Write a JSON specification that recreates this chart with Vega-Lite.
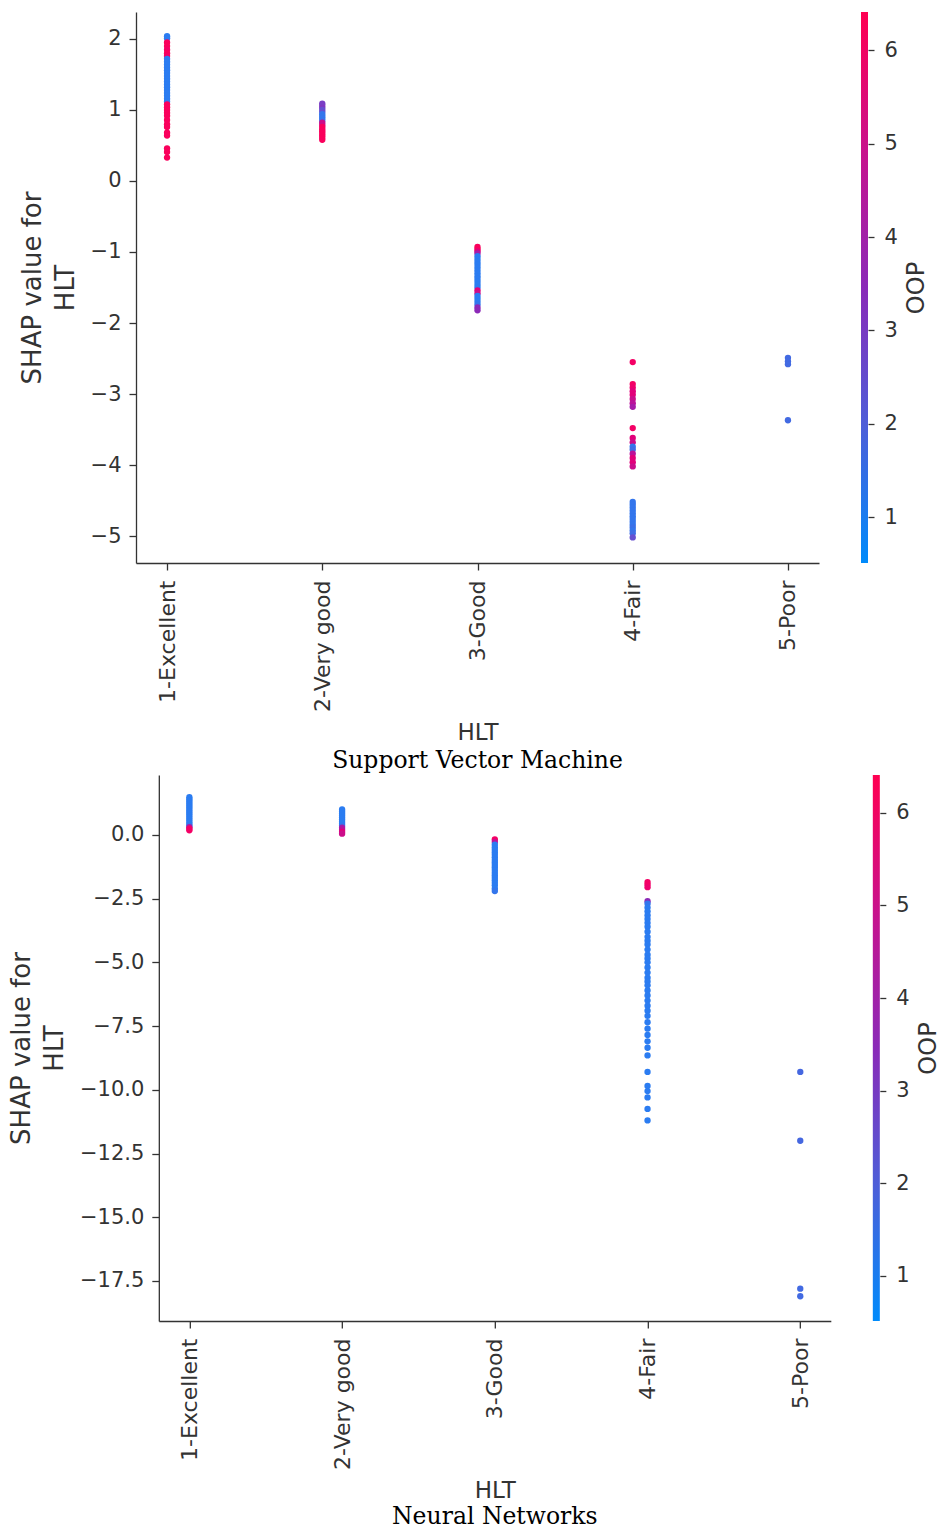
{
  "$schema": "https://vega.github.io/schema/vega-lite/v6.json",
  "background": "white",
  "padding": {"left": 8, "top": 12, "right": 0, "bottom": 0},
  "spacing": 2,
  "center": true,
  "datasets": {
    "svm": [
      {"HLT": "1-Excellent", "SHAP": 2.04, "OOP": 1.0},
      {"HLT": "1-Excellent", "SHAP": 2.01, "OOP": 1.0},
      {"HLT": "1-Excellent", "SHAP": 1.95, "OOP": 6.2},
      {"HLT": "1-Excellent", "SHAP": 1.9, "OOP": 6.2},
      {"HLT": "1-Excellent", "SHAP": 1.85, "OOP": 6.0},
      {"HLT": "1-Excellent", "SHAP": 1.8, "OOP": 6.2},
      {"HLT": "1-Excellent", "SHAP": 1.76, "OOP": 6.0},
      {"HLT": "1-Excellent", "SHAP": 1.72, "OOP": 1.0},
      {"HLT": "1-Excellent", "SHAP": 1.68, "OOP": 1.0},
      {"HLT": "1-Excellent", "SHAP": 1.64, "OOP": 1.0},
      {"HLT": "1-Excellent", "SHAP": 1.6, "OOP": 1.0},
      {"HLT": "1-Excellent", "SHAP": 1.56, "OOP": 1.0},
      {"HLT": "1-Excellent", "SHAP": 1.52, "OOP": 1.0},
      {"HLT": "1-Excellent", "SHAP": 1.48, "OOP": 1.0},
      {"HLT": "1-Excellent", "SHAP": 1.44, "OOP": 1.0},
      {"HLT": "1-Excellent", "SHAP": 1.4, "OOP": 1.0},
      {"HLT": "1-Excellent", "SHAP": 1.36, "OOP": 1.0},
      {"HLT": "1-Excellent", "SHAP": 1.32, "OOP": 1.0},
      {"HLT": "1-Excellent", "SHAP": 1.28, "OOP": 1.0},
      {"HLT": "1-Excellent", "SHAP": 1.24, "OOP": 1.0},
      {"HLT": "1-Excellent", "SHAP": 1.2, "OOP": 1.0},
      {"HLT": "1-Excellent", "SHAP": 1.16, "OOP": 1.0},
      {"HLT": "1-Excellent", "SHAP": 1.12, "OOP": 1.0},
      {"HLT": "1-Excellent", "SHAP": 1.08, "OOP": 6.2},
      {"HLT": "1-Excellent", "SHAP": 1.04, "OOP": 6.2},
      {"HLT": "1-Excellent", "SHAP": 1.0, "OOP": 6.2},
      {"HLT": "1-Excellent", "SHAP": 0.96, "OOP": 6.2},
      {"HLT": "1-Excellent", "SHAP": 0.92, "OOP": 6.2},
      {"HLT": "1-Excellent", "SHAP": 0.86, "OOP": 6.2},
      {"HLT": "1-Excellent", "SHAP": 0.8, "OOP": 6.2},
      {"HLT": "1-Excellent", "SHAP": 0.76, "OOP": 6.2},
      {"HLT": "1-Excellent", "SHAP": 0.68, "OOP": 6.2},
      {"HLT": "1-Excellent", "SHAP": 0.64, "OOP": 6.2},
      {"HLT": "1-Excellent", "SHAP": 0.46, "OOP": 6.2},
      {"HLT": "1-Excellent", "SHAP": 0.41, "OOP": 6.2},
      {"HLT": "1-Excellent", "SHAP": 0.33, "OOP": 6.2},
      {"HLT": "2-Very good", "SHAP": 1.09, "OOP": 3.0},
      {"HLT": "2-Very good", "SHAP": 1.06, "OOP": 3.0},
      {"HLT": "2-Very good", "SHAP": 1.03, "OOP": 3.2},
      {"HLT": "2-Very good", "SHAP": 1.0, "OOP": 2.5},
      {"HLT": "2-Very good", "SHAP": 0.97, "OOP": 2.5},
      {"HLT": "2-Very good", "SHAP": 0.94, "OOP": 1.2},
      {"HLT": "2-Very good", "SHAP": 0.91, "OOP": 1.2},
      {"HLT": "2-Very good", "SHAP": 0.88, "OOP": 1.2},
      {"HLT": "2-Very good", "SHAP": 0.85, "OOP": 1.2},
      {"HLT": "2-Very good", "SHAP": 0.82, "OOP": 5.0},
      {"HLT": "2-Very good", "SHAP": 0.79, "OOP": 5.0},
      {"HLT": "2-Very good", "SHAP": 0.76, "OOP": 6.2},
      {"HLT": "2-Very good", "SHAP": 0.73, "OOP": 6.2},
      {"HLT": "2-Very good", "SHAP": 0.7, "OOP": 6.2},
      {"HLT": "2-Very good", "SHAP": 0.67, "OOP": 6.2},
      {"HLT": "2-Very good", "SHAP": 0.64, "OOP": 6.2},
      {"HLT": "2-Very good", "SHAP": 0.61, "OOP": 6.2},
      {"HLT": "2-Very good", "SHAP": 0.58, "OOP": 6.2},
      {"HLT": "3-Good", "SHAP": -0.93, "OOP": 6.2},
      {"HLT": "3-Good", "SHAP": -0.96, "OOP": 6.2},
      {"HLT": "3-Good", "SHAP": -0.99, "OOP": 5.5},
      {"HLT": "3-Good", "SHAP": -1.02, "OOP": 4.0},
      {"HLT": "3-Good", "SHAP": -1.06, "OOP": 1.0},
      {"HLT": "3-Good", "SHAP": -1.1, "OOP": 1.0},
      {"HLT": "3-Good", "SHAP": -1.14, "OOP": 1.0},
      {"HLT": "3-Good", "SHAP": -1.18, "OOP": 1.0},
      {"HLT": "3-Good", "SHAP": -1.22, "OOP": 1.0},
      {"HLT": "3-Good", "SHAP": -1.26, "OOP": 1.0},
      {"HLT": "3-Good", "SHAP": -1.3, "OOP": 1.0},
      {"HLT": "3-Good", "SHAP": -1.34, "OOP": 1.0},
      {"HLT": "3-Good", "SHAP": -1.38, "OOP": 1.0},
      {"HLT": "3-Good", "SHAP": -1.42, "OOP": 1.0},
      {"HLT": "3-Good", "SHAP": -1.46, "OOP": 1.0},
      {"HLT": "3-Good", "SHAP": -1.5, "OOP": 1.0},
      {"HLT": "3-Good", "SHAP": -1.54, "OOP": 5.5},
      {"HLT": "3-Good", "SHAP": -1.58, "OOP": 5.0},
      {"HLT": "3-Good", "SHAP": -1.62, "OOP": 1.0},
      {"HLT": "3-Good", "SHAP": -1.66, "OOP": 1.0},
      {"HLT": "3-Good", "SHAP": -1.7, "OOP": 1.0},
      {"HLT": "3-Good", "SHAP": -1.74, "OOP": 1.2},
      {"HLT": "3-Good", "SHAP": -1.78, "OOP": 3.5},
      {"HLT": "3-Good", "SHAP": -1.82, "OOP": 3.5},
      {"HLT": "4-Fair", "SHAP": -2.55, "OOP": 6.0},
      {"HLT": "4-Fair", "SHAP": -2.86, "OOP": 6.0},
      {"HLT": "4-Fair", "SHAP": -2.91, "OOP": 5.8},
      {"HLT": "4-Fair", "SHAP": -2.96, "OOP": 5.5},
      {"HLT": "4-Fair", "SHAP": -3.01, "OOP": 5.5},
      {"HLT": "4-Fair", "SHAP": -3.07, "OOP": 5.0},
      {"HLT": "4-Fair", "SHAP": -3.13, "OOP": 4.5},
      {"HLT": "4-Fair", "SHAP": -3.18, "OOP": 4.0},
      {"HLT": "4-Fair", "SHAP": -3.48, "OOP": 6.0},
      {"HLT": "4-Fair", "SHAP": -3.62, "OOP": 5.5},
      {"HLT": "4-Fair", "SHAP": -3.68, "OOP": 5.0},
      {"HLT": "4-Fair", "SHAP": -3.74, "OOP": 1.2},
      {"HLT": "4-Fair", "SHAP": -3.78, "OOP": 1.5},
      {"HLT": "4-Fair", "SHAP": -3.84, "OOP": 4.5},
      {"HLT": "4-Fair", "SHAP": -3.9, "OOP": 5.5},
      {"HLT": "4-Fair", "SHAP": -3.96, "OOP": 5.5},
      {"HLT": "4-Fair", "SHAP": -4.02, "OOP": 5.0},
      {"HLT": "4-Fair", "SHAP": -4.52, "OOP": 1.2},
      {"HLT": "4-Fair", "SHAP": -4.56, "OOP": 1.2},
      {"HLT": "4-Fair", "SHAP": -4.6, "OOP": 1.2},
      {"HLT": "4-Fair", "SHAP": -4.64, "OOP": 1.2},
      {"HLT": "4-Fair", "SHAP": -4.68, "OOP": 1.2},
      {"HLT": "4-Fair", "SHAP": -4.72, "OOP": 1.2},
      {"HLT": "4-Fair", "SHAP": -4.76, "OOP": 1.2},
      {"HLT": "4-Fair", "SHAP": -4.8, "OOP": 1.2},
      {"HLT": "4-Fair", "SHAP": -4.84, "OOP": 1.2},
      {"HLT": "4-Fair", "SHAP": -4.88, "OOP": 1.4},
      {"HLT": "4-Fair", "SHAP": -4.92, "OOP": 1.2},
      {"HLT": "4-Fair", "SHAP": -4.96, "OOP": 1.5},
      {"HLT": "4-Fair", "SHAP": -5.02, "OOP": 2.5},
      {"HLT": "5-Poor", "SHAP": -2.49, "OOP": 1.6},
      {"HLT": "5-Poor", "SHAP": -2.54, "OOP": 1.6},
      {"HLT": "5-Poor", "SHAP": -2.58, "OOP": 1.6},
      {"HLT": "5-Poor", "SHAP": -3.37, "OOP": 1.6}
    ],
    "nn": [
      {"HLT": "1-Excellent", "SHAP": 1.48, "OOP": 1.0},
      {"HLT": "1-Excellent", "SHAP": 1.4, "OOP": 1.0},
      {"HLT": "1-Excellent", "SHAP": 1.32, "OOP": 1.0},
      {"HLT": "1-Excellent", "SHAP": 1.24, "OOP": 1.0},
      {"HLT": "1-Excellent", "SHAP": 1.16, "OOP": 1.0},
      {"HLT": "1-Excellent", "SHAP": 1.08, "OOP": 1.0},
      {"HLT": "1-Excellent", "SHAP": 1.0, "OOP": 1.0},
      {"HLT": "1-Excellent", "SHAP": 0.92, "OOP": 1.0},
      {"HLT": "1-Excellent", "SHAP": 0.84, "OOP": 1.0},
      {"HLT": "1-Excellent", "SHAP": 0.76, "OOP": 1.0},
      {"HLT": "1-Excellent", "SHAP": 0.68, "OOP": 1.0},
      {"HLT": "1-Excellent", "SHAP": 0.6, "OOP": 1.0},
      {"HLT": "1-Excellent", "SHAP": 0.52, "OOP": 1.0},
      {"HLT": "1-Excellent", "SHAP": 0.44, "OOP": 1.0},
      {"HLT": "1-Excellent", "SHAP": 0.36, "OOP": 1.2},
      {"HLT": "1-Excellent", "SHAP": 0.3, "OOP": 4.0},
      {"HLT": "1-Excellent", "SHAP": 0.24, "OOP": 6.0},
      {"HLT": "1-Excellent", "SHAP": 0.18, "OOP": 6.0},
      {"HLT": "2-Very good", "SHAP": 1.0, "OOP": 1.0},
      {"HLT": "2-Very good", "SHAP": 0.92, "OOP": 1.0},
      {"HLT": "2-Very good", "SHAP": 0.84, "OOP": 1.0},
      {"HLT": "2-Very good", "SHAP": 0.76, "OOP": 1.0},
      {"HLT": "2-Very good", "SHAP": 0.68, "OOP": 1.0},
      {"HLT": "2-Very good", "SHAP": 0.6, "OOP": 1.0},
      {"HLT": "2-Very good", "SHAP": 0.52, "OOP": 1.0},
      {"HLT": "2-Very good", "SHAP": 0.44, "OOP": 1.0},
      {"HLT": "2-Very good", "SHAP": 0.36, "OOP": 1.2},
      {"HLT": "2-Very good", "SHAP": 0.28, "OOP": 4.0},
      {"HLT": "2-Very good", "SHAP": 0.2, "OOP": 4.5},
      {"HLT": "2-Very good", "SHAP": 0.12, "OOP": 5.5},
      {"HLT": "2-Very good", "SHAP": 0.05, "OOP": 5.0},
      {"HLT": "3-Good", "SHAP": -0.18, "OOP": 6.0},
      {"HLT": "3-Good", "SHAP": -0.28, "OOP": 4.5},
      {"HLT": "3-Good", "SHAP": -0.38, "OOP": 1.0},
      {"HLT": "3-Good", "SHAP": -0.48, "OOP": 1.0},
      {"HLT": "3-Good", "SHAP": -0.58, "OOP": 1.0},
      {"HLT": "3-Good", "SHAP": -0.68, "OOP": 1.0},
      {"HLT": "3-Good", "SHAP": -0.78, "OOP": 1.0},
      {"HLT": "3-Good", "SHAP": -0.88, "OOP": 1.0},
      {"HLT": "3-Good", "SHAP": -0.98, "OOP": 1.0},
      {"HLT": "3-Good", "SHAP": -1.08, "OOP": 1.0},
      {"HLT": "3-Good", "SHAP": -1.18, "OOP": 1.0},
      {"HLT": "3-Good", "SHAP": -1.28, "OOP": 1.0},
      {"HLT": "3-Good", "SHAP": -1.38, "OOP": 1.0},
      {"HLT": "3-Good", "SHAP": -1.48, "OOP": 1.0},
      {"HLT": "3-Good", "SHAP": -1.58, "OOP": 1.0},
      {"HLT": "3-Good", "SHAP": -1.68, "OOP": 1.0},
      {"HLT": "3-Good", "SHAP": -1.78, "OOP": 1.0},
      {"HLT": "3-Good", "SHAP": -1.88, "OOP": 1.0},
      {"HLT": "3-Good", "SHAP": -1.98, "OOP": 1.0},
      {"HLT": "3-Good", "SHAP": -2.1, "OOP": 1.0},
      {"HLT": "3-Good", "SHAP": -2.2, "OOP": 1.2},
      {"HLT": "4-Fair", "SHAP": -1.85, "OOP": 6.0},
      {"HLT": "4-Fair", "SHAP": -1.95, "OOP": 6.0},
      {"HLT": "4-Fair", "SHAP": -2.05, "OOP": 5.8},
      {"HLT": "4-Fair", "SHAP": -2.6, "OOP": 3.5},
      {"HLT": "4-Fair", "SHAP": -2.7, "OOP": 1.2},
      {"HLT": "4-Fair", "SHAP": -2.85, "OOP": 1.0},
      {"HLT": "4-Fair", "SHAP": -3.0, "OOP": 1.0},
      {"HLT": "4-Fair", "SHAP": -3.15, "OOP": 1.0},
      {"HLT": "4-Fair", "SHAP": -3.3, "OOP": 1.0},
      {"HLT": "4-Fair", "SHAP": -3.45, "OOP": 1.0},
      {"HLT": "4-Fair", "SHAP": -3.6, "OOP": 1.0},
      {"HLT": "4-Fair", "SHAP": -3.8, "OOP": 1.0},
      {"HLT": "4-Fair", "SHAP": -4.0, "OOP": 1.0},
      {"HLT": "4-Fair", "SHAP": -4.15, "OOP": 1.0},
      {"HLT": "4-Fair", "SHAP": -4.3, "OOP": 1.0},
      {"HLT": "4-Fair", "SHAP": -4.5, "OOP": 1.0},
      {"HLT": "4-Fair", "SHAP": -4.7, "OOP": 1.0},
      {"HLT": "4-Fair", "SHAP": -4.85, "OOP": 1.0},
      {"HLT": "4-Fair", "SHAP": -5.0, "OOP": 1.0},
      {"HLT": "4-Fair", "SHAP": -5.2, "OOP": 1.0},
      {"HLT": "4-Fair", "SHAP": -5.4, "OOP": 1.0},
      {"HLT": "4-Fair", "SHAP": -5.6, "OOP": 1.0},
      {"HLT": "4-Fair", "SHAP": -5.75, "OOP": 1.0},
      {"HLT": "4-Fair", "SHAP": -5.9, "OOP": 1.0},
      {"HLT": "4-Fair", "SHAP": -6.1, "OOP": 1.0},
      {"HLT": "4-Fair", "SHAP": -6.3, "OOP": 1.0},
      {"HLT": "4-Fair", "SHAP": -6.5, "OOP": 1.0},
      {"HLT": "4-Fair", "SHAP": -6.7, "OOP": 1.0},
      {"HLT": "4-Fair", "SHAP": -6.9, "OOP": 1.0},
      {"HLT": "4-Fair", "SHAP": -7.1, "OOP": 1.0},
      {"HLT": "4-Fair", "SHAP": -7.35, "OOP": 1.0},
      {"HLT": "4-Fair", "SHAP": -7.6, "OOP": 1.0},
      {"HLT": "4-Fair", "SHAP": -7.85, "OOP": 1.0},
      {"HLT": "4-Fair", "SHAP": -8.1, "OOP": 1.0},
      {"HLT": "4-Fair", "SHAP": -8.35, "OOP": 1.0},
      {"HLT": "4-Fair", "SHAP": -8.65, "OOP": 1.0},
      {"HLT": "4-Fair", "SHAP": -9.3, "OOP": 1.0},
      {"HLT": "4-Fair", "SHAP": -9.85, "OOP": 1.0},
      {"HLT": "4-Fair", "SHAP": -10.05, "OOP": 1.0},
      {"HLT": "4-Fair", "SHAP": -10.3, "OOP": 1.0},
      {"HLT": "4-Fair", "SHAP": -10.75, "OOP": 1.0},
      {"HLT": "4-Fair", "SHAP": -11.2, "OOP": 1.0},
      {"HLT": "5-Poor", "SHAP": -9.3, "OOP": 1.7},
      {"HLT": "5-Poor", "SHAP": -12.0, "OOP": 1.7},
      {"HLT": "5-Poor", "SHAP": -17.8, "OOP": 1.6},
      {"HLT": "5-Poor", "SHAP": -18.1, "OOP": 1.6}
    ],
    "bar": [{"lo": 0.51, "hi": 6.41}]
  },
  "vconcat": [
    {
      "spacing": 42,
      "hconcat": [
        {
          "width": 683,
          "height": 551,
          "data": {"name": "svm"},
          "title": {"text": "Support Vector Machine", "orient": "bottom", "anchor": "middle", "frame": "group", "font": "DejaVu Serif", "fontSize": 23.5, "fontWeight": "normal", "color": "#000000", "offset": 5},
          "mark": {"type": "circle", "size": 40, "opacity": 1},
          "encoding": {
            "x": {"field": "HLT", "type": "ordinal", "scale": {"type": "point", "padding": 0.2, "domain": ["1-Excellent", "2-Very good", "3-Good", "4-Fair", "5-Poor"]}, "axis": {"title": "HLT", "labelAngle": -90}},
            "y": {"field": "SHAP", "type": "quantitative", "scale": {"domain": [-5.38, 2.38], "nice": false, "zero": false}, "axis": {"values": [-5, -4, -3, -2, -1, 0, 1, 2], "format": "d", "title": ["SHAP value for", "HLT"]}},
            "color": {"field": "OOP", "type": "quantitative", "scale": {"domain": [0.51, 1.985, 3.46, 4.935, 6.41], "range": ["#008bfb", "#4d5ed8", "#8a2ab8", "#c8128c", "#ff0052"]}, "legend": null}
          }
        },
        {
          "spacing": 0,
          "hconcat": [
            {
              "width": 7,
              "height": 551,
              "data": {"name": "bar"},
              "mark": {"type": "rect", "color": {"gradient": "linear", "x1": 0, "y1": 1, "x2": 0, "y2": 0, "stops": [{"offset": 0, "color": "#008bfb"}, {"offset": 0.25, "color": "#4d5ed8"}, {"offset": 0.5, "color": "#8a2ab8"}, {"offset": 0.75, "color": "#c8128c"}, {"offset": 1, "color": "#ff0052"}]}},
              "encoding": {
                "y": {"field": "lo", "type": "quantitative", "scale": {"domain": [0.51, 6.41], "nice": false, "zero": false}, "axis": {"orient": "right", "values": [1, 2, 3, 4, 5, 6], "format": "d", "domain": false, "tickSize": 6, "labelPadding": 10, "title": "OOP", "titleAngle": 270, "titleBaseline": "top", "titleFontSize": 24, "titlePadding": 7}},
                "y2": {"field": "hi"}
              }
            },
            {
              "width": 34,
              "height": 1,
              "data": {"name": "bar"},
              "mark": {"type": "rect", "opacity": 0},
              "encoding": {}
            }
          ]
        }
      ],
      "resolve": {"scale": {"y": "independent", "color": "independent"}}
    },
    {
      "spacing": 42,
      "hconcat": [
        {
          "width": 672,
          "height": 546,
          "data": {"name": "nn"},
          "title": {"text": "Neural Networks", "orient": "bottom", "anchor": "middle", "frame": "group", "font": "DejaVu Serif", "fontSize": 23.5, "fontWeight": "normal", "color": "#000000", "offset": 3},
          "mark": {"type": "circle", "size": 40, "opacity": 1},
          "encoding": {
            "x": {"field": "HLT", "type": "ordinal", "scale": {"type": "point", "padding": 0.2, "domain": ["1-Excellent", "2-Very good", "3-Good", "4-Fair", "5-Poor"]}, "axis": {"title": "HLT", "labelAngle": -90}},
            "y": {"field": "SHAP", "type": "quantitative", "scale": {"domain": [-19.07, 2.35], "nice": false, "zero": false}, "axis": {"values": [0, -2.5, -5, -7.5, -10, -12.5, -15, -17.5], "format": ".1f", "title": ["SHAP value for", "HLT"]}},
            "color": {"field": "OOP", "type": "quantitative", "scale": {"domain": [0.51, 1.985, 3.46, 4.935, 6.41], "range": ["#008bfb", "#4d5ed8", "#8a2ab8", "#c8128c", "#ff0052"]}, "legend": null}
          }
        },
        {
          "width": 7,
          "height": 546,
          "data": {"name": "bar"},
          "mark": {"type": "rect", "color": {"gradient": "linear", "x1": 0, "y1": 1, "x2": 0, "y2": 0, "stops": [{"offset": 0, "color": "#008bfb"}, {"offset": 0.25, "color": "#4d5ed8"}, {"offset": 0.5, "color": "#8a2ab8"}, {"offset": 0.75, "color": "#c8128c"}, {"offset": 1, "color": "#ff0052"}]}},
          "encoding": {
            "y": {"field": "lo", "type": "quantitative", "scale": {"domain": [0.51, 6.41], "nice": false, "zero": false}, "axis": {"orient": "right", "values": [1, 2, 3, 4, 5, 6], "format": "d", "domain": false, "tickSize": 6, "labelPadding": 10, "title": "OOP", "titleAngle": 270, "titleBaseline": "top", "titleFontSize": 24, "titlePadding": 7}},
            "y2": {"field": "hi"}
          }
        }
      ],
      "resolve": {"scale": {"y": "independent", "color": "independent"}}
    }
  ],
  "resolve": {"scale": {"color": "independent", "x": "independent", "y": "independent"}},
  "config": {
    "view": {"stroke": null},
    "font": "DejaVu Sans",
    "axis": {
      "grid": false,
      "domainColor": "#333333",
      "domainWidth": 1.3,
      "tickColor": "#333333",
      "tickWidth": 1.3,
      "tickSize": 7,
      "labelFont": "DejaVu Sans",
      "labelFontSize": 21,
      "labelColor": "#333333",
      "labelPadding": 8,
      "labelLimit": 400,
      "titleFont": "DejaVu Sans",
      "titleFontWeight": "normal",
      "titleColor": "#333333"
    },
    "axisX": {"titleFontSize": 23, "titlePadding": 10, "labelPadding": 10, "labelFontSize": 22},
    "axisY": {"titleFontSize": 26, "titleLineHeight": 33, "titlePadding": 12}
  }
}
